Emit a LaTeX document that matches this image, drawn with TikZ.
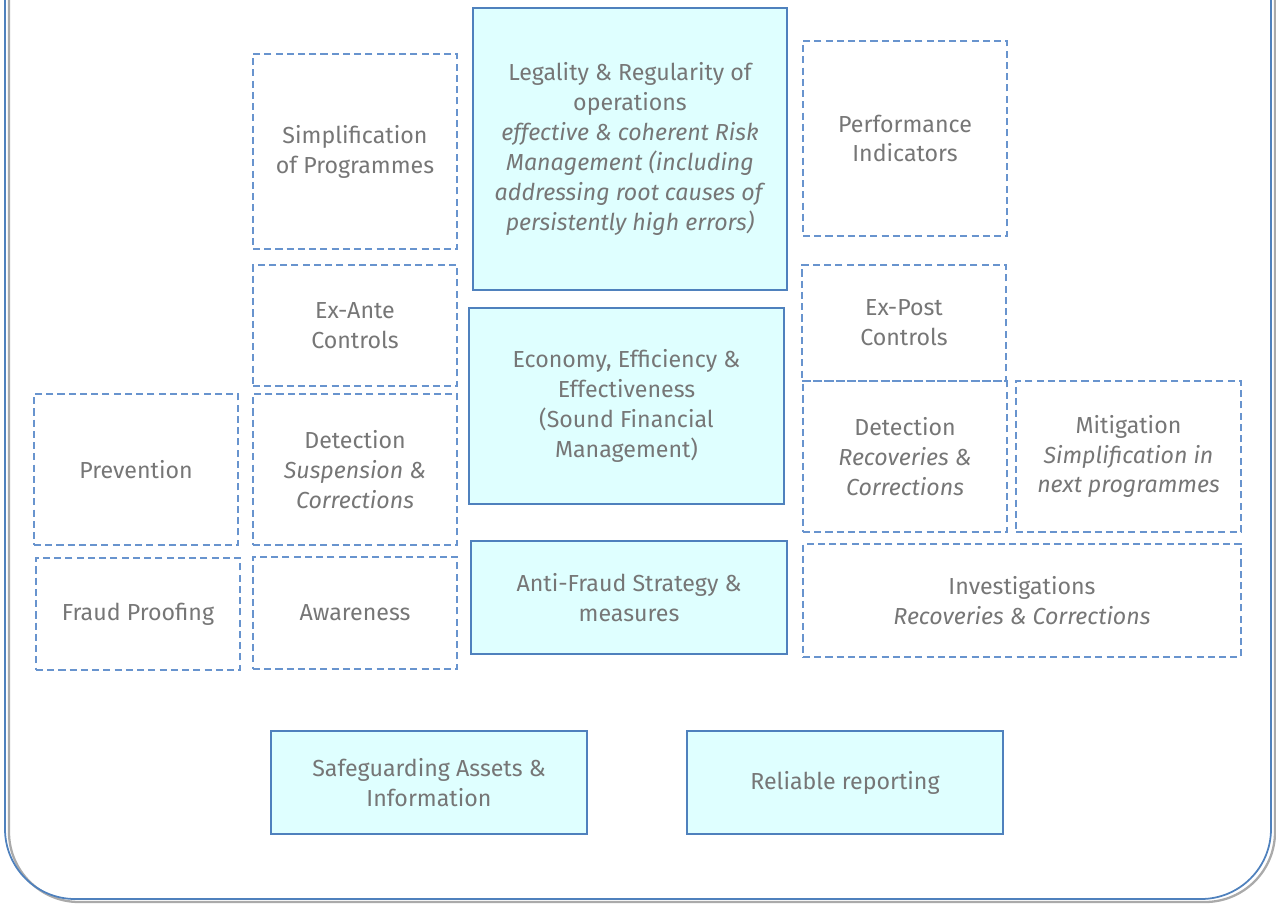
\documentclass[tikz,border=0pt]{standalone}
\usepackage{fontspec}
\setmainfont{Fira Sans}
\definecolor{txtgray}{RGB}{118,118,118}
\definecolor{lineblue}{RGB}{79,129,189}
\definecolor{dashblue}{RGB}{104,148,206}
\definecolor{boxcyan}{RGB}{223,255,255}
\definecolor{shadegray}{RGB}{170,170,170}
\tikzset{
  sz/.style 2 args={minimum width={#1*0.02cm},minimum height={#2*0.02cm}},
  cell/.style={inner sep=0pt,outer sep=0pt,align=center,text=txtgray,
    font=\fontsize{13.2}{17}\selectfont},
  dbox/.style={cell,draw=dashblue,line width=0.6pt,dash pattern=on 4pt off 2.4pt},
  fbox/.style={cell,draw=lineblue,fill=boxcyan,line width=0.7pt}
}
\begin{document}
\begin{tikzpicture}[x=0.02cm,y=-0.02cm]
\useasboundingbox (0,0) rectangle (1276,904);
% frame, open at the top
\draw[shadegray,line width=1.3pt,rounded corners=1.4cm](9,-60)--(9,902)--(1275,902)--(1275,-60);
\draw[lineblue,line width=1pt,rounded corners=1.4cm](5,-60)--(5,899)--(1271,899)--(1271,-60);
% middle column
\node[fbox,sz={314}{282}](legal)at(630,149){Legality \& Regularity of\\operations\\\textit{effective \& coherent Risk}\\\textit{Management (including}\\\textit{addressing root causes of}\\\textit{persistently high errors)}};
\node[fbox,sz={315}{196}](econ)at(626.5,406){Economy, Efficiency \&\\Effectiveness\\(Sound Financial\\Management)};
\node[fbox,sz={316}{113}](anti)at(629,597.5){Anti-Fraud Strategy \&\\measures};
% left columns
\node[dbox,sz={204}{195}](simp)at(355,151.5){Simplification\\of Programmes};
\node[dbox,sz={204}{121}](exante)at(355,325.5){Ex-Ante\\Controls};
\node[dbox,sz={204}{151}](detl)at(355,469.5){Detection\\\textit{Suspension \&}\\\textit{Corrections}};
\node[dbox,sz={204}{112}](aware)at(355,613){Awareness};
\node[dbox,sz={204}{151}](prev)at(136,469.5){Prevention};
\node[dbox,sz={204}{112}](fraud)at(138,614){Fraud Proofing};
% right columns
\node[dbox,sz={204}{195}](perf)at(905,138.5){Performance\\Indicators};
\node[dbox,sz={204}{116}](expost)at(904,323){Ex-Post\\Controls};
\node[dbox,sz={204}{151}](detr)at(905,456.5){Detection\\\textit{Recoveries \&}\\\textit{Corrections}};
\node[dbox,sz={225}{151}](mitig)at(1128.5,456.5){Mitigation\\\textit{Simplification in}\\\textit{next programmes}};
\node[dbox,sz={438}{113}](invest)at(1022,600.5){Investigations\\\textit{Recoveries \& Corrections}};
% bottom row
\node[fbox,sz={316}{103}](safe)at(429,782.5){Safeguarding Assets \&\\Information};
\node[fbox,sz={316}{103}](rel)at(845,782.5){Reliable reporting};
\end{tikzpicture}
\end{document}
